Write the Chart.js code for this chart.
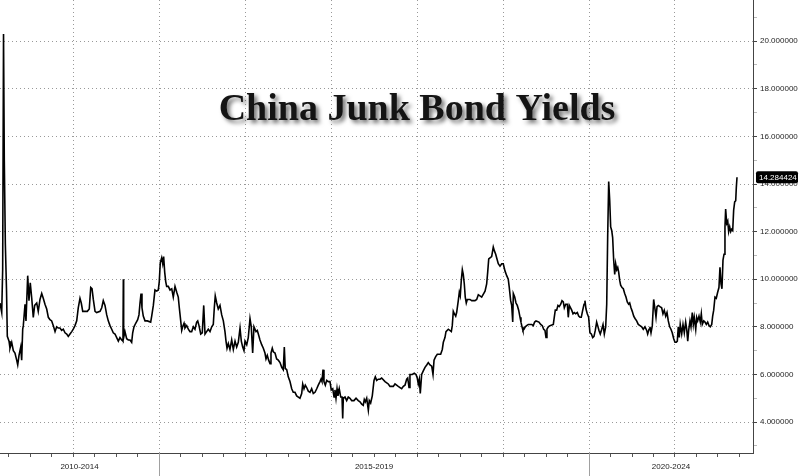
<!DOCTYPE html>
<html>
<head>
<meta charset="utf-8">
<title>China Junk Bond Yields</title>
<script src="https://cdn.jsdelivr.net/npm/chart.js@4.4.1/dist/chart.umd.min.js"></script>
<style>
  html, body { margin: 0; padding: 0; background: #fff; }
  #wrap { position: relative; width: 800px; height: 476px; }
</style>
</head>
<body>
<div id="wrap"><canvas id="yieldChart"></canvas></div>
<script>
// ---- chart text ----
var chartTitle = 'China Junk Bond Yields';

// groups under the time axis
var periodLabels = ['2010-2014', '2015-2019', '2020-2024'];
var periodStarts = [2013.151, 2015, 2020];
var periodEnds = [2015, 2020, 2021.907];

// axis ranges / ticks
var xMin = 2013.151, xMax = 2021.907;
var yMin = 2.7, yMax = 21.73;
var yTickValues = [3, 4, 5, 6, 7, 8, 9, 10, 11, 12, 13, 14, 15, 16, 17, 18, 19, 20, 21];
var yearTicks = [2014, 2015, 2016, 2017, 2018, 2019, 2020, 2021];

// ---- yield series (decimal year, yield %) ----
var dates2013_2014 = [2013.151, 2013.171, 2013.182, 2013.192, 2013.201, 2013.213, 2013.227, 2013.236, 2013.256, 2013.267,
  2013.287, 2013.306, 2013.325, 2013.345, 2013.357, 2013.372, 2013.392, 2013.403, 2013.415, 2013.422,
  2013.442, 2013.453, 2013.473, 2013.488, 2013.503, 2013.520, 2013.538, 2013.554, 2013.578, 2013.596,
  2013.616, 2013.636, 2013.654, 2013.674, 2013.694, 2013.713, 2013.732, 2013.752, 2013.771, 2013.791,
  2013.810, 2013.829, 2013.849, 2013.868, 2013.887, 2013.907, 2013.927, 2013.945, 2013.965, 2013.985,
  2014.003, 2014.023, 2014.043, 2014.061, 2014.081, 2014.096, 2014.113, 2014.139, 2014.166, 2014.189,
  2014.206, 2014.221, 2014.236, 2014.256, 2014.275, 2014.314, 2014.334, 2014.352, 2014.372, 2014.392,
  2014.410, 2014.430, 2014.450, 2014.468, 2014.488, 2014.508, 2014.527, 2014.546, 2014.566, 2014.581,
  2014.585, 2014.589, 2014.604, 2014.624, 2014.643, 2014.663, 2014.682, 2014.694, 2014.709, 2014.729,
  2014.752, 2014.767, 2014.779, 2014.791, 2014.802, 2014.817, 2014.837, 2014.864, 2014.903, 2014.915,
  2014.934, 2014.953, 2014.973, 2014.992];
var yields2013_2014 = [9.0, 8.6, 10.4, 20.3, 15.0, 11.5, 9.5, 7.6, 7.4, 7.1,
  7.35, 7.0, 6.9, 6.6, 6.4, 6.8, 7.15, 6.6, 7.9, 8.05,
  8.95, 8.25, 10.15, 9.1, 9.85, 9.2, 8.4, 8.9, 9.0, 8.65,
  9.15, 9.4, 9.2, 8.95, 8.75, 8.4, 8.3, 8.25, 8.05, 7.8,
  8.0, 7.95, 7.95, 7.85, 7.9, 7.75, 7.7, 7.6, 7.7, 7.8,
  7.9, 8.05, 8.25, 8.8, 9.2, 9.0, 8.65, 8.65, 8.65, 8.75,
  9.65, 9.6, 9.15, 8.65, 8.6, 8.65, 8.8, 9.1, 8.9, 8.5,
  8.25, 8.05, 7.9, 7.75, 7.7, 7.55, 7.4, 7.55, 7.45, 7.4,
  10.0, 7.55, 7.8, 7.5, 7.45, 7.45, 7.35, 7.75, 8.0, 8.15,
  8.3, 8.5, 9.0, 9.4, 8.8, 8.45, 8.25, 8.25, 8.2, 8.45,
  8.9, 9.55, 9.5, 9.55];

var dates2015_2019 = [2015.003, 2015.015, 2015.031, 2015.043, 2015.054, 2015.066, 2015.078, 2015.089, 2015.108, 2015.128,
  2015.148, 2015.166, 2015.186, 2015.206, 2015.224, 2015.236, 2015.248, 2015.264, 2015.275, 2015.291,
  2015.302, 2015.322, 2015.341, 2015.360, 2015.380, 2015.399, 2015.418, 2015.438, 2015.450, 2015.465,
  2015.485, 2015.503, 2015.520, 2015.535, 2015.554, 2015.573, 2015.593, 2015.613, 2015.631, 2015.643,
  2015.654, 2015.671, 2015.689, 2015.709, 2015.729, 2015.748, 2015.767, 2015.779, 2015.791, 2015.806,
  2015.825, 2015.845, 2015.864, 2015.884, 2015.903, 2015.922, 2015.942, 2015.957, 2015.973, 2015.988,
  2016.000, 2016.020, 2016.038, 2016.058, 2016.073, 2016.089, 2016.104, 2016.128, 2016.143, 2016.159,
  2016.174, 2016.194, 2016.213, 2016.232, 2016.244, 2016.259, 2016.275, 2016.291, 2016.302, 2016.317,
  2016.329, 2016.349, 2016.368, 2016.387, 2016.407, 2016.427, 2016.445, 2016.457, 2016.468, 2016.485,
  2016.503, 2016.523, 2016.543, 2016.561, 2016.581, 2016.601, 2016.620, 2016.639, 2016.659, 2016.671,
  2016.686, 2016.701, 2016.717, 2016.736, 2016.756, 2016.775, 2016.794, 2016.814, 2016.834, 2016.852,
  2016.872, 2016.884, 2016.895, 2016.907, 2016.918, 2016.934, 2016.950, 2016.968, 2016.988, 2017.003,
  2017.020, 2017.035, 2017.046, 2017.058, 2017.070, 2017.081, 2017.096, 2017.113, 2017.128, 2017.136,
  2017.143, 2017.163, 2017.182, 2017.201, 2017.221, 2017.241, 2017.267, 2017.291, 2017.317, 2017.337,
  2017.357, 2017.375, 2017.387, 2017.399, 2017.415, 2017.434, 2017.445, 2017.461, 2017.480, 2017.500,
  2017.515, 2017.531, 2017.550, 2017.570, 2017.589, 2017.628, 2017.648, 2017.666, 2017.686, 2017.724,
  2017.744, 2017.782, 2017.802, 2017.822, 2017.841, 2017.860, 2017.880, 2017.892, 2017.907, 2017.918,
  2017.945, 2017.968, 2017.988, 2018.003, 2018.015, 2018.027, 2018.038, 2018.054, 2018.073, 2018.093,
  2018.113, 2018.131, 2018.151, 2018.171, 2018.186, 2018.198, 2018.217, 2018.236, 2018.275, 2018.294,
  2018.306, 2018.325, 2018.337, 2018.364, 2018.399, 2018.410, 2018.422, 2018.434, 2018.450, 2018.461,
  2018.480, 2018.492, 2018.503, 2018.515, 2018.527, 2018.538, 2018.550, 2018.561, 2018.573, 2018.585,
  2018.616, 2018.636, 2018.674, 2018.694, 2018.713, 2018.752, 2018.791, 2018.810, 2018.822, 2018.834,
  2018.849, 2018.868, 2018.887, 2018.899, 2018.915, 2018.930, 2018.945, 2018.965, 2018.985, 2019.003,
  2019.023, 2019.043, 2019.061, 2019.073, 2019.089, 2019.101, 2019.113, 2019.120, 2019.136, 2019.151,
  2019.166, 2019.182, 2019.198, 2019.209, 2019.221, 2019.232, 2019.244, 2019.259, 2019.275, 2019.294,
  2019.314, 2019.334, 2019.352, 2019.368, 2019.384, 2019.418, 2019.438, 2019.457, 2019.473, 2019.488,
  2019.500, 2019.511, 2019.527, 2019.546, 2019.585, 2019.596, 2019.608, 2019.624, 2019.639, 2019.654,
  2019.671, 2019.686, 2019.701, 2019.713, 2019.729, 2019.748, 2019.759, 2019.771, 2019.799, 2019.814,
  2019.829, 2019.845, 2019.864, 2019.880, 2019.895, 2019.910, 2019.927, 2019.942, 2019.953, 2019.965,
  2019.980, 2019.996];
var yields2015_2019 = [9.9, 10.7, 10.9, 10.65, 10.95, 10.3, 9.9, 9.7, 9.7, 9.55,
  9.6, 9.25, 9.7, 9.45, 9.25, 8.8, 8.4, 7.85, 8.0, 8.15,
  7.95, 8.05, 7.9, 7.8, 7.8, 8.0, 7.9, 8.2, 8.25, 8.05,
  7.7, 7.75, 8.9, 7.7, 7.8, 7.9, 7.8, 8.0, 8.1, 8.8,
  9.3, 9.0, 8.75, 8.9, 8.5, 8.25, 7.8, 7.4, 7.1, 7.3,
  7.05, 7.45, 7.05, 7.4, 7.15, 7.35, 7.95, 7.4, 7.15, 7.0,
  7.4, 7.25, 7.55, 8.35, 8.0, 6.9, 8.0, 7.8, 7.85, 7.65,
  7.45, 7.25, 7.1, 6.9, 6.65, 6.8, 6.6, 6.45, 6.9, 7.1,
  6.95, 6.9, 6.65, 6.6, 6.5, 6.3, 6.2, 7.15, 6.25, 6.2,
  5.9, 5.7, 5.4, 5.25, 5.25, 5.1, 5.05, 5.0, 5.2, 5.6,
  5.4, 5.55, 5.45, 5.3, 5.25, 5.4, 5.2, 5.25, 5.4, 5.55,
  5.7, 5.8, 5.7, 6.2, 5.7, 5.55, 5.75, 5.7, 5.7, 5.35,
  5.4, 5.05, 5.35, 5.0, 5.4, 5.1, 5.4, 5.05, 5.05, 4.15,
  5.0, 5.05, 4.9, 5.05, 5.0, 4.9, 4.9, 5.0, 4.9, 4.85,
  4.75, 4.7, 4.95, 4.85, 5.0, 4.5, 4.9, 4.8, 5.1, 5.75,
  5.9, 5.75, 5.8, 5.8, 5.85, 5.7, 5.65, 5.6, 5.5, 5.5,
  5.6, 5.5, 5.45, 5.4, 5.5, 5.55, 5.8, 5.85, 5.45, 6.0,
  6.0, 6.05, 6.0, 5.85, 5.6, 5.8, 5.2, 6.0, 6.15, 6.3,
  6.4, 6.5, 6.4, 6.35, 6.0, 6.6, 6.75, 6.85, 6.85, 7.05,
  7.35, 7.55, 7.8, 7.9, 7.8, 8.05, 8.65, 8.55, 8.45, 8.6,
  9.1, 9.45, 9.3, 9.95, 10.4, 10.2, 9.8, 9.25, 9.0, 9.15,
  9.15, 9.1, 9.1, 9.15, 9.35, 9.25, 9.5, 9.8, 10.3, 10.85,
  10.9, 10.95, 11.35, 11.2, 11.05, 10.85, 10.65, 10.55, 10.65, 10.65,
  10.35, 10.15, 10.0, 9.65, 9.1, 8.9, 8.2, 9.4, 9.25, 9.0,
  8.9, 8.7, 8.4, 8.2, 8.0, 7.85, 7.9, 8.0, 8.05, 8.1,
  8.1, 8.1, 8.05, 8.2, 8.25, 8.2, 8.1, 8.05, 7.9, 7.85,
  7.55, 7.9, 8.0, 8.05, 8.1, 8.4, 8.7, 8.7, 8.9, 8.85,
  8.95, 9.1, 9.05, 8.8, 8.95, 8.95, 8.4, 8.9, 8.7, 8.55,
  8.6, 8.55, 8.6, 8.45, 8.4, 8.4, 8.7, 8.95, 9.1, 8.75,
  8.55, 8.4];

var dates2020_2021 = [2020.011, 2020.027, 2020.043, 2020.058, 2020.073, 2020.089, 2020.101, 2020.116, 2020.131, 2020.148,
  2020.163, 2020.178, 2020.194, 2020.206, 2020.217, 2020.229, 2020.241, 2020.252, 2020.264, 2020.275,
  2020.287, 2020.299, 2020.310, 2020.322, 2020.334, 2020.345, 2020.357, 2020.368, 2020.384, 2020.399,
  2020.415, 2020.430, 2020.445, 2020.461, 2020.473, 2020.488, 2020.503, 2020.520, 2020.535, 2020.554,
  2020.573, 2020.593, 2020.613, 2020.631, 2020.651, 2020.671, 2020.682, 2020.698, 2020.709, 2020.721,
  2020.736, 2020.752, 2020.767, 2020.779, 2020.791, 2020.806, 2020.825, 2020.845, 2020.860, 2020.875,
  2020.892, 2020.907, 2020.922, 2020.938, 2020.953, 2020.968, 2020.985, 2021.000, 2021.015, 2021.027,
  2021.038, 2021.050, 2021.061, 2021.078, 2021.093, 2021.108, 2021.124, 2021.136, 2021.148, 2021.159,
  2021.174, 2021.186, 2021.201, 2021.213, 2021.224, 2021.241, 2021.252, 2021.264, 2021.279, 2021.294,
  2021.306, 2021.317, 2021.334, 2021.349, 2021.364, 2021.380, 2021.395, 2021.410, 2021.427, 2021.438,
  2021.450, 2021.465, 2021.480, 2021.496, 2021.511, 2021.523, 2021.535, 2021.546, 2021.558, 2021.570,
  2021.581, 2021.589, 2021.601, 2021.613, 2021.624, 2021.636, 2021.648, 2021.659, 2021.671, 2021.682,
  2021.694, 2021.706, 2021.713, 2021.721];
var yields2020_2021 = [7.75, 7.7, 7.55, 7.6, 7.85, 8.2, 8.05, 7.85, 7.7, 7.9,
  8.1, 7.7, 8.0, 8.95, 11.75, 14.1, 13.3, 12.2, 12.05, 11.75,
  10.8, 10.2, 10.65, 10.4, 10.5, 10.3, 9.95, 9.75, 9.65, 9.6,
  9.4, 9.25, 9.05, 8.95, 9.0, 8.8, 8.65, 8.45, 8.35, 8.25,
  8.1, 8.05, 8.0, 7.9, 8.0, 7.85, 7.7, 7.9, 8.0, 7.75,
  8.05, 9.15, 8.75, 8.4, 8.85, 8.9, 8.85, 8.8, 8.55, 8.7,
  8.45, 8.6, 8.25, 8.0, 7.9, 7.75, 7.5, 7.35, 7.35, 7.4,
  8.0, 7.55, 8.1, 7.7, 8.1, 7.75, 8.2, 7.9, 7.4, 7.85,
  8.25, 8.0, 8.6, 8.1, 8.4, 7.9, 8.4, 8.25, 8.45, 8.2,
  8.55, 8.1, 8.25, 8.2, 8.1, 8.2, 8.05, 8.0, 8.1, 8.45,
  8.7, 9.25, 9.2, 9.45, 9.65, 10.5, 9.8, 9.6, 10.8, 11.05,
  12.2, 12.95, 12.35, 12.45, 12.0, 12.2, 12.0, 12.1, 12.05, 12.9,
  13.25, 13.3, 13.85, 14.284424];

// join the periods into one point list
var dates = dates2013_2014.concat(dates2015_2019, dates2020_2021);
var yields = yields2013_2014.concat(yields2015_2019, yields2020_2021);
var points = dates.map(function (d, i) { return { x: d, y: yields[i] }; });
var lastYield = yields[yields.length - 1];

// quarter marks on the time axis (gridline only on whole years)
var xTickValues = [];
yearTicks.forEach(function (yr) {
  xTickValues.push(yr - 0.75, yr - 0.5, yr - 0.25, yr);
});
xTickValues.push(2021.25, 2021.5, 2021.75);

var AXIS_FONT = '"Liberation Sans", Arial, sans-serif';

// draws the period labels, the last value tag and the shadowed title
var decorPlugin = {
  id: 'decor',
  afterDraw: function (chart) {
    var ctx = chart.ctx;
    var xs = chart.scales.x, ys = chart.scales.y;
    var area = chart.chartArea;
    var i, px;

    ctx.save();
    // separators between periods, below the axis line
    ctx.strokeStyle = '#a0a0a0';
    ctx.lineWidth = 1;
    for (i = 1; i < periodStarts.length; i++) {
      px = Math.round(xs.getPixelForValue(periodStarts[i])) + 0.5;
      ctx.beginPath();
      ctx.moveTo(px, area.bottom);
      ctx.lineTo(px, chart.height);
      ctx.stroke();
    }
    ctx.fillStyle = '#222';
    ctx.font = '8px ' + AXIS_FONT;
    ctx.textAlign = 'center';
    ctx.textBaseline = 'middle';
    for (i = 0; i < periodLabels.length; i++) {
      px = (xs.getPixelForValue(periodStarts[i]) + xs.getPixelForValue(periodEnds[i])) / 2;
      ctx.fillText(periodLabels[i], px, area.bottom + 14);
    }

    // last value tag on the right axis
    var ly = ys.getPixelForValue(lastYield);
    var tx = area.right + 3;
    ctx.fillStyle = '#000';
    ctx.beginPath();
    if (ctx.roundRect) {
      ctx.roundRect(tx, ly - 6, 42, 12, 2);
    } else {
      ctx.rect(tx, ly - 6, 42, 12);
    }
    ctx.fill();
    ctx.fillStyle = '#fff';
    ctx.textAlign = 'left';
    ctx.fillText(lastYield.toFixed(6), tx + 3, ly + 0.5);

    // title
    ctx.font = 'bold 38px "Liberation Serif", "Times New Roman", serif';
    ctx.textAlign = 'center';
    ctx.textBaseline = 'alphabetic';
    ctx.shadowColor = 'rgba(0,0,0,0.55)';
    ctx.shadowOffsetX = 3;
    ctx.shadowOffsetY = 3;
    ctx.shadowBlur = 4;
    ctx.fillStyle = '#141414';
    ctx.fillText(chartTitle, 417, 120);
    ctx.restore();
  }
};

var chart = new Chart(document.getElementById('yieldChart'), {
  type: 'line',
  data: {
    datasets: [{
      label: chartTitle,
      data: points,
      borderColor: '#000',
      borderWidth: 1.6,
      pointRadius: 0,
      tension: 0,
      fill: false
    }]
  },
  options: {
    responsive: true,
    maintainAspectRatio: false,
    animation: false,
    layout: { padding: 0 },
    plugins: {
      legend: { display: false },
      tooltip: { enabled: false },
      title: { display: false }
    },
    scales: {
      x: {
        type: 'linear',
        min: xMin,
        max: xMax,
        afterBuildTicks: function (scale) {
          scale.ticks = xTickValues.map(function (v) { return { value: v }; });
        },
        afterFit: function (scale) {
          scale.height = 23;
          scale.paddingLeft = 0;
          scale.paddingRight = 0;
        },
        ticks: { display: false },
        grid: {
          color: function (c) {
            return (c.tick && Number.isInteger(c.tick.value)) ? '#999' : 'rgba(0,0,0,0)';
          },
          tickColor: '#555',
          tickLength: 4,
          tickBorderDash: [],
          lineWidth: 1
        },
        border: { display: true, color: '#444', width: 1, dash: [1, 3] }
      },
      y: {
        type: 'linear',
        position: 'right',
        min: yMin,
        max: yMax,
        afterBuildTicks: function (scale) {
          scale.ticks = yTickValues.map(function (v) { return { value: v }; });
        },
        afterFit: function (scale) {
          scale.width = 47;
          scale.paddingTop = 0;
          scale.paddingBottom = 0;
        },
        ticks: {
          color: '#1e1e1e',
          padding: 3,
          font: { family: AXIS_FONT, size: 8 },
          callback: function (v) { return v % 2 === 0 ? v.toFixed(6) : ''; }
        },
        grid: {
          color: function (c) {
            return (c.tick && c.tick.value % 2 === 0) ? '#999' : 'rgba(0,0,0,0)';
          },
          tickColor: function (c) {
            return (c.tick && c.tick.value % 2 === 0) ? '#444' : '#bbb';
          },
          tickLength: 4,
          tickBorderDash: [],
          lineWidth: 1
        },
        border: { display: true, color: '#444', width: 1, dash: [1, 3] }
      }
    }
  },
  plugins: [decorPlugin]
});
</script>
</body>
</html>
